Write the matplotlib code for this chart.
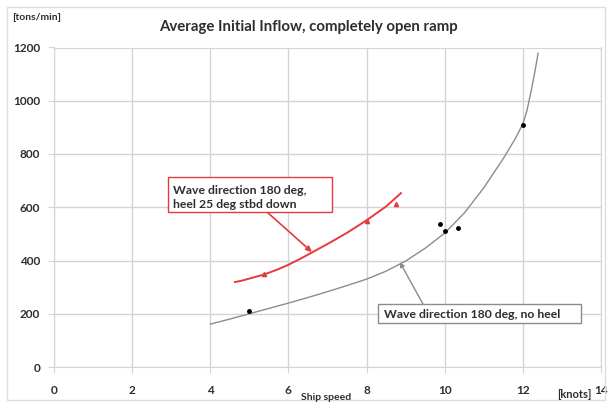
import matplotlib.pyplot as plt
from matplotlib.patches import Rectangle

# measured points, no heel
noheel_speed = [5.0, 9.88, 10.0, 10.34, 12.0]
noheel_flow = [212, 537, 511, 523, 909]

# trendline, no heel
noheel_fit_speed = [4.0, 4.5, 5.0, 5.5, 6.0, 6.5, 7.0, 7.5, 8.0, 8.5, 9.0, 9.5, 10.0, 10.5,
                    11.0, 11.5, 11.8, 12.0, 12.1, 12.2, 12.3, 12.39]
noheel_fit_flow = [161, 180, 200, 220, 240, 261, 283, 306, 330, 360, 398, 446, 503, 578,
                   673, 783, 856, 913, 960, 1028, 1103, 1178]

# measured points, heel 25 deg
heel_speed = [5.37, 8.01, 8.75]
heel_flow = [349, 548, 614]

# trendline, heel 25 deg
heel_fit_speed = [4.63, 4.8, 5.0, 5.37, 5.7, 6.0, 6.3, 6.6, 7.0, 7.5, 8.0, 8.5, 8.88]
heel_fit_flow = [319, 324, 332, 347, 365, 384, 406, 430, 462, 504, 551, 603, 653]

xticks = [0, 2, 4, 6, 8, 10, 12, 14]
yticks = [0, 200, 400, 600, 800, 1000, 1200]

W, H = 611, 403
txt = '#2e2e2e'
grid = '#d4d4d4'
red = '#e53a3d'
gray = '#8c8c8c'
plt.rcParams['font.family'] = ['Lato', 'DejaVu Sans']


def fx(px):
    return px / W


def fy(py):
    return 1 - py / H


fig = plt.figure(figsize=(W / 100, H / 100), dpi=100)
ax = fig.add_axes([fx(54), fy(367), 547 / W, 319.5 / H])

ax.plot(noheel_fit_speed, noheel_fit_flow, color=gray, lw=1.0)
ax.plot(noheel_speed, noheel_flow, 'o', color='black', ms=2.5)
ax.plot(heel_fit_speed, heel_fit_flow, color=red, lw=1.4)
ax.plot(heel_speed, heel_flow, '^', color=red, ms=3)

ax.set_xlim(0, 14)
ax.set_ylim(0, 1200)
ax.set_xticks(xticks)
ax.set_yticks(yticks)
ax.grid(True, color=grid, lw=1.0)
ax.set_axisbelow(True)
for s in ax.spines.values():
    s.set_color(grid)
ax.tick_params(length=4, color=grid, labelsize=8.5, labelcolor=txt, pad=6)
for lbl in ax.get_xticklabels() + ax.get_yticklabels():
    lbl.set_fontweight('bold')
ax.tick_params(axis='x', pad=9)

fig.text(fx(12), fy(17), '[tons/min]', fontsize=7.5, fontweight='bold', color=txt, va='center')
fig.text(fx(308), fy(27), 'Average Initial Inflow, completely open ramp', fontsize=10.8,
         fontweight='bold', color=txt, ha='center', va='center')
fig.text(fx(326), fy(397), 'Ship speed', fontsize=7.5, fontweight='bold', color=txt, ha='center', va='center')
fig.text(fx(574), fy(394), '[knots]', fontsize=8, fontweight='bold', color=txt, ha='center', va='center')

# callout, heel 25 deg
fig.patches.append(Rectangle((fx(168), fy(212)), 164 / W, 35 / H, transform=fig.transFigure,
                             fc='white', ec=red, lw=1, zorder=3))
fig.text(fx(173), fy(190), 'Wave direction 180 deg,', fontsize=8.8, fontweight='bold', color=txt,
         va='center', zorder=4)
fig.text(fx(173), fy(204), 'heel 25 deg stbd down', fontsize=8.8, fontweight='bold', color=txt,
         va='center', zorder=4)
ax.annotate('', xy=(6.6, 432), xytext=(fx(267), fy(212)), textcoords='figure fraction',
            arrowprops=dict(arrowstyle='-|>', color=red, lw=1.2, mutation_scale=8,
                            shrinkA=0, shrinkB=0))

# callout, no heel
fig.patches.append(Rectangle((fx(378), fy(323)), 203 / W, 19 / H, transform=fig.transFigure,
                             fc='white', ec=gray, lw=1, zorder=3))
fig.text(fx(384), fy(314), 'Wave direction 180 deg, no heel', fontsize=8.8, fontweight='bold',
         color=txt, va='center', zorder=4)
ax.annotate('', xy=(8.85, 394), xytext=(fx(423), fy(304)), textcoords='figure fraction',
            arrowprops=dict(arrowstyle='-|>', color=gray, lw=1.0, mutation_scale=7,
                            shrinkA=0, shrinkB=0))

fig.patches.append(Rectangle((fx(7), fy(400)), 598 / W, 393 / H, transform=fig.transFigure,
                             fill=False, ec='#dddddd', lw=1))

fig.savefig('out.png', dpi=100)
